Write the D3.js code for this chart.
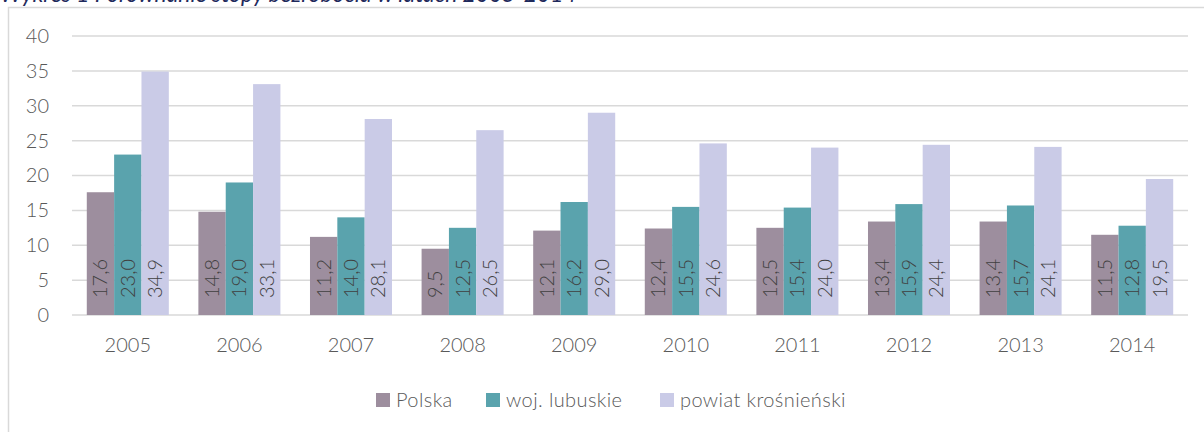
<!DOCTYPE html>
<html>
<head>
<meta charset="utf-8">
<script src="https://cdn.jsdelivr.net/npm/d3@7"></script>
<style>
  html, body { margin: 0; padding: 0; background: #fff; }
  svg { display: block; font-family: Lato, "Open Sans", sans-serif; font-weight: 300; }
</style>
</head>
<body>
<svg id="chart" width="1204" height="432"></svg>
<script>
const years = ['2005', '2006', '2007', '2008', '2009', '2010', '2011', '2012', '2013', '2014'];
const seriesNames = ['Polska', 'woj. lubuskie', 'powiat krośnieński'];
const polska = [17.6, 14.8, 11.2, 9.5, 12.1, 12.4, 12.5, 13.4, 13.4, 11.5];
const lubuskie = [23.0, 19.0, 14.0, 12.5, 16.2, 15.5, 15.4, 15.9, 15.7, 12.8];
const krosnienski = [34.9, 33.1, 28.1, 26.5, 29.0, 24.6, 24.0, 24.4, 24.1, 19.5];
const yTicks = [0, 5, 10, 15, 20, 25, 30, 35, 40];
const colors = ['#9d8e9e', '#5aa3ad', '#cacbe7'];

const seriesValues = [polska, lubuskie, krosnienski];
const svg = d3.select('#chart');

// ramka obszaru wykresu
svg.append('rect')
    .attr('x', 8.5).attr('y', 7.5)
    .attr('width', 1240).attr('height', 460)
    .attr('fill', 'none')
    .attr('stroke', '#d9d9d9')
    .attr('stroke-width', 1.5);

// tytuł (ucięty u góry, jak w oryginale)
const title = svg.append('text')
    .attr('x', 0).attr('y', 1.5)
    .attr('fill', '#1f2a5c')
    .style('font-style', 'italic')
    .style('font-weight', 400)
    .style('font-size', '18px')
    .text('Wykres 1 Porównanie stopy bezrobocia w latach 2005-2014');
const tw = title.node().getComputedTextLength();
title.style('font-size', (18 * 577 / tw) + 'px');

const plotLeft = 72, plotRight = 1188, plotTop = 36, plotBottom = 315;

const x0 = d3.scaleBand()
    .domain(years)
    .range([plotLeft, plotRight])
    .paddingInner(0.265)
    .paddingOuter(0.1325);

const x1 = d3.scaleBand()
    .domain(d3.range(seriesNames.length))
    .range([0, x0.bandwidth()]);

const y = d3.scaleLinear()
    .domain([0, 40])
    .range([plotBottom, plotTop]);

// linie siatki
svg.append('g')
    .selectAll('line')
    .data(yTicks)
    .join('line')
    .attr('x1', plotLeft).attr('x2', plotRight)
    .attr('y1', d => y(d)).attr('y2', d => y(d))
    .attr('stroke', '#d9d9d9')
    .attr('stroke-width', 1.5);

// oś Y
const yAxis = svg.append('g')
    .attr('transform', `translate(${plotLeft - 23},0)`)
    .call(d3.axisLeft(y).tickValues(yTicks).tickSize(0).tickPadding(0));
yAxis.select('.domain').remove();
yAxis.selectAll('text')
    .attr('fill', '#595959')
    .style('font-family', 'Lato, sans-serif')
    .style('font-weight', 300)
    .style('font-size', '20px');

// oś X
const xAxis = svg.append('g')
    .attr('transform', `translate(0,${plotBottom})`)
    .call(d3.axisBottom(x0).tickSize(0).tickPadding(23));
xAxis.select('.domain').remove();
xAxis.selectAll('text')
    .attr('fill', '#595959')
    .style('font-family', 'Lato, sans-serif')
    .style('font-weight', 300)
    .style('font-size', '20px');

// słupki
const groups = svg.append('g')
    .selectAll('g')
    .data(years)
    .join('g')
    .attr('transform', d => `translate(${x0(d)},0)`);

const cells = groups.selectAll('g')
    .data((d, i) => seriesValues.map((vals, s) => ({s, v: vals[i]})))
    .join('g');

cells.append('rect')
    .attr('x', d => x1(d.s))
    .attr('width', x1.bandwidth())
    .attr('y', d => y(d.v))
    .attr('height', d => y(0) - y(d.v))
    .attr('fill', d => colors[d.s]);

cells.append('text')
    .attr('transform', d => `translate(${x1(d.s) + x1.bandwidth() / 2 + 7},${y(0) - 17}) rotate(-90)`)
    .attr('fill', '#404040')
    .style('font-size', '20px')
    .style('font-weight', 300)
    .text(d => d3.format('.1f')(d.v).replace('.', ','));

// legenda
const legendX = [376, 486, 660];
const items = svg.append('g')
    .selectAll('g')
    .data(seriesNames)
    .join('g')
    .attr('transform', (d, i) => `translate(${legendX[i]},0)`);
items.append('rect')
    .attr('width', 14).attr('height', 14)
    .attr('y', 393)
    .attr('fill', (d, i) => colors[i]);
items.append('text')
    .attr('x', 20).attr('y', 407)
    .attr('fill', '#595959')
    .style('font-size', '20px')
    .style('font-weight', 300)
    .style('letter-spacing', '0.4px')
    .text(d => d);
</script>
</body>
</html>
